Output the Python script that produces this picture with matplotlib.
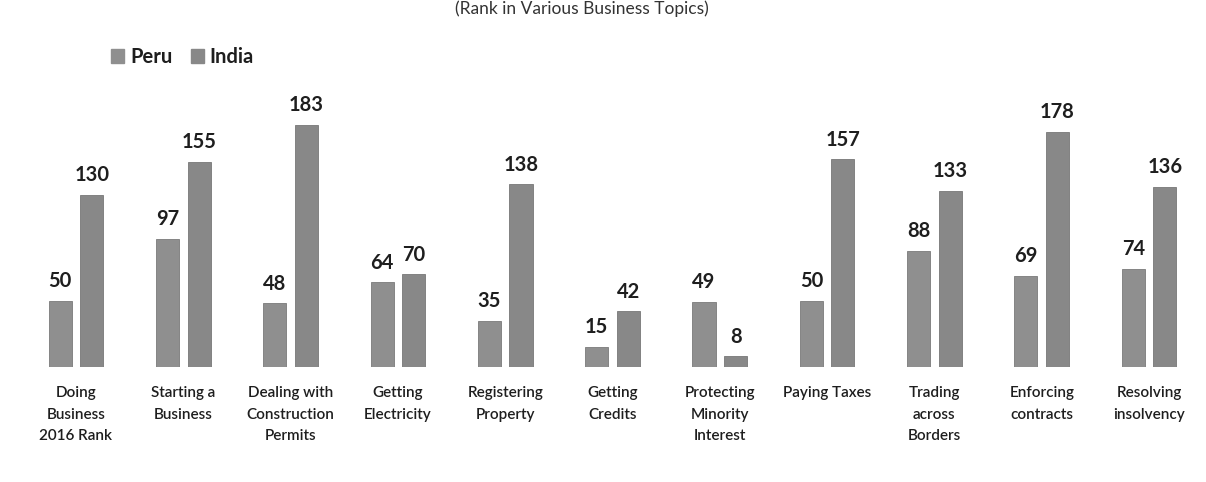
import matplotlib.pyplot as plt
from matplotlib.patches import Patch
import numpy as np

categories = ["Doing\nBusiness\n2016 Rank", "Starting a\nBusiness", "Dealing with\nConstruction\nPermits",
              "Getting\nElectricity", "Registering\nProperty", "Getting\nCredits",
              "Protecting\nMinority\nInterest", "Paying Taxes", "Trading\nacross\nBorders",
              "Enforcing\ncontracts", "Resolving\ninsolvency"]
peru = [50, 97, 48, 64, 35, 15, 49, 50, 88, 69, 74]
india = [130, 155, 183, 70, 138, 42, 8, 157, 133, 178, 136]

plt.rcParams['font.family'] = ['Lato', 'DejaVu Sans']

W, H = 1206, 482
fig = plt.figure(figsize=(W / 100, H / 100), dpi=100)

# axes: baseline at y=367px from top, 1.323 px per rank unit
base_px = 367
ax = fig.add_axes([0, (H - base_px) / H, 1, base_px / H])
px_per_unit = 107.3
ax.set_xlim(-76 / px_per_unit, -76 / px_per_unit + W / px_per_unit)
ax.set_ylim(0, base_px / 1.323)

x = np.arange(len(categories))
bw = 0.215
off = 0.147
peru_col = "#8f8f8f"
india_col = "#888888"
b1 = ax.bar(x - off, peru, bw, color=peru_col, edgecolor="#7a7a7a", linewidth=0.6)
b2 = ax.bar(x + off, india, bw, color=india_col, edgecolor="#777777", linewidth=0.6)

for bars in (b1, b2):
    ax.bar_label(bars, padding=7, fontsize=14.5, fontweight='bold', color="#1e1e1e")

ax.set_xticks(x)
ax.set_xticklabels(categories, fontsize=11, fontweight='semibold', color="#1e1e1e", linespacing=1.68)
ax.tick_params(axis='x', length=0, pad=14)
ax.set_yticks([])
for s in ax.spines.values():
    s.set_visible(False)

handles = [Patch(color=peru_col, label="Peru"), Patch(color=india_col, label="India")]
fig.legend(handles=handles, loc='center left', bbox_to_anchor=(93 / W, 1 - 57 / H),
           ncol=2, frameon=False, handlelength=0.65, handleheight=0.65,
           handletextpad=0.3, columnspacing=0.9,
           prop={'size': 14.5, 'weight': 'bold'}, labelcolor="#1e1e1e")

fig.text(582 / W, 1, "(Rank in Various Business Topics)", ha='center', va='top',
         fontsize=12.5, color="#333333")

fig.savefig("out.png", dpi=100)
